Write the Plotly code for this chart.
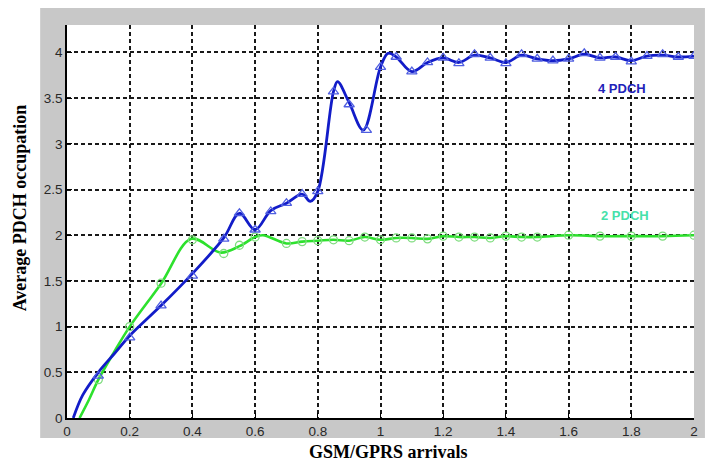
import plotly.graph_objects as go

# 4 PDCH: sampled curve and marker points
pdch4_curve_x = [0.02, 0.05, 0.1, 0.15, 0.2, 0.3, 0.4, 0.5, 0.55, 0.6, 0.65, 0.7, 0.75, 0.776, 0.8,
                 0.85, 0.863, 0.9, 0.945, 1.0, 1.024, 1.05, 1.1, 1.15, 1.2, 1.25, 1.3, 1.35, 1.4,
                 1.45, 1.5, 1.55, 1.6, 1.65, 1.7, 1.75, 1.8, 1.85, 1.9, 1.95, 2.0]
pdch4_curve_y = [0.0, 0.25, 0.5, 0.7, 0.9, 1.23, 1.58, 1.97, 2.24, 2.06, 2.27, 2.35, 2.45, 2.37, 2.48,
                 3.57, 3.68, 3.45, 3.15, 3.84, 3.99, 3.95, 3.79, 3.89, 3.94, 3.89, 3.97, 3.94, 3.89,
                 3.97, 3.93, 3.91, 3.93, 3.98, 3.94, 3.95, 3.91, 3.96, 3.97, 3.95, 3.96]
pdch4_mark_x = [0.1, 0.2, 0.3, 0.4, 0.5, 0.55, 0.6, 0.65, 0.7, 0.75, 0.8, 0.85, 0.9, 0.955,
                1.0, 1.05, 1.1, 1.15, 1.2, 1.25, 1.3, 1.35, 1.4, 1.45, 1.5, 1.55, 1.6, 1.65,
                1.7, 1.75, 1.8, 1.85, 1.9, 1.95, 2.0]
pdch4_mark_y = [0.46, 0.88, 1.23, 1.555, 1.96, 2.24, 2.06, 2.26, 2.35, 2.45, 2.48, 3.57, 3.43, 3.15,
                3.84, 3.95, 3.79, 3.89, 3.94, 3.88, 3.98, 3.94, 3.88, 3.98, 3.93, 3.91, 3.93, 3.99,
                3.94, 3.95, 3.90, 3.96, 3.98, 3.95, 3.96]

# 2 PDCH: sampled curve and marker points
pdch2_curve_x = [0.04, 0.07, 0.1, 0.15, 0.2, 0.3, 0.397, 0.49, 0.55, 0.6, 0.625, 0.7, 0.75, 0.8, 0.85,
                 0.9, 0.95, 1.0, 1.05, 1.1, 1.15, 1.2, 1.25, 1.3, 1.35, 1.4, 1.45, 1.5, 1.6, 1.7,
                 1.8, 1.9, 2.0]
pdch2_curve_y = [0.0, 0.2, 0.42, 0.72, 1.0, 1.47, 1.96, 1.81, 1.88, 1.98, 2.0, 1.91, 1.93, 1.94, 1.95,
                 1.94, 1.98, 1.95, 1.97, 1.97, 1.96, 1.99, 1.98, 1.98, 1.97, 1.99, 1.98, 1.98, 2.0,
                 1.99, 1.99, 1.99, 2.0]
pdch2_mark_x = [0.1, 0.2, 0.3, 0.4, 0.5, 0.55, 0.6, 0.7, 0.75, 0.8, 0.85, 0.9, 0.95, 1.0,
                1.05, 1.1, 1.15, 1.2, 1.25, 1.3, 1.35, 1.4, 1.45, 1.5, 1.6, 1.7, 1.8, 1.9, 2.0]
pdch2_mark_y = [0.42, 1.0, 1.475, 1.95, 1.80, 1.89, 1.98, 1.91, 1.93, 1.94, 1.95, 1.94, 1.98, 1.95,
                1.97, 1.97, 1.96, 1.99, 1.98, 1.98, 1.97, 1.99, 1.98, 1.98, 2.0, 1.99, 1.99, 1.99, 2.0]

x_ticks = [0, 0.2, 0.4, 0.6, 0.8, 1, 1.2, 1.4, 1.6, 1.8, 2]
x_tick_text = ["0", "0.2", "0.4", "0.6", "0.8", "1", "1.2", "1.4", "1.6", "1.8", "2"]
y_ticks = [0, 0.5, 1, 1.5, 2, 2.5, 3, 3.5, 4]
y_tick_text = ["0", "0.5", "1", "1.5", "2", "2.5", "3", "3.5", "4"]

BLUE = "rgb(18,28,200)"
BLUE_MK = "rgb(80,95,225)"
GREEN = "rgb(45,225,45)"
GREEN_MK = "rgb(125,220,125)"

fig = go.Figure()
fig.add_trace(go.Scatter(x=pdch2_curve_x, y=pdch2_curve_y, mode="lines",
                         line=dict(color=GREEN, width=2.6, shape="spline", smoothing=1.0),
                         showlegend=False, hoverinfo="skip"))
fig.add_trace(go.Scatter(x=pdch2_mark_x, y=pdch2_mark_y, mode="markers",
                         marker=dict(symbol="circle-open", size=8, color=GREEN_MK,
                                     line=dict(width=1.3)),
                         name="2 PDCH", showlegend=False))
fig.add_trace(go.Scatter(x=pdch4_curve_x, y=pdch4_curve_y, mode="lines",
                         line=dict(color=BLUE, width=2.8, shape="spline", smoothing=1.0),
                         showlegend=False, hoverinfo="skip"))
fig.add_trace(go.Scatter(x=pdch4_mark_x, y=pdch4_mark_y, mode="markers",
                         marker=dict(symbol="triangle-up-open", size=9, color=BLUE_MK,
                                     line=dict(width=1.3)),
                         name="4 PDCH", showlegend=False))

L, R, T, B = 67, 11, 25, 44
W, H = 709, 462
pw, ph = W - L - R, H - T - B

def px_to_paper_x(px):
    return (px - L) / pw

def px_to_paper_y(py):
    return (H - B - py) / ph

# grey frame around the axes, then the white axes area on top of it
fig.add_shape(type="rect", xref="paper", yref="paper",
              x0=px_to_paper_x(40), x1=px_to_paper_x(709),
              y0=px_to_paper_y(438), y1=px_to_paper_y(8),
              fillcolor="rgb(200,200,200)", line=dict(width=0), layer="below")
fig.add_shape(type="rect", xref="paper", yref="paper", x0=0, x1=1, y0=0, y1=1,
              fillcolor="white", line=dict(width=0), layer="below")

grid = dict(showgrid=True, gridcolor="rgb(25,25,25)", gridwidth=1.5, griddash="4px,3px")
tickfont = dict(family="Liberation Sans, Arial, sans-serif", size=13.5, color="rgb(40,40,40)")

fig.update_xaxes(range=[0, 2], tickvals=x_ticks, ticktext=x_tick_text, ticks="inside",
                 ticklen=5, tickcolor="black", showline=True, linecolor="black", linewidth=1.5,
                 zeroline=False, tickfont=tickfont, **grid)
fig.update_yaxes(range=[0, 4.3], tickvals=y_ticks, ticktext=y_tick_text, ticks="inside",
                 ticklen=5, tickcolor="black", showline=True, linecolor="black", linewidth=1.5,
                 zeroline=False, tickfont=tickfont, **grid)

serif = "Liberation Serif, Times New Roman, serif"
fig.add_annotation(text="<b>GSM/GPRS arrivals</b>", xref="paper", yref="paper",
                   x=px_to_paper_x(391), y=px_to_paper_y(452), showarrow=False,
                   xanchor="center", yanchor="middle",
                   font=dict(family=serif, size=18, color="black"))
fig.add_annotation(text="<b>Average PDCH occupation</b>", xref="paper", yref="paper",
                   x=px_to_paper_x(20), y=px_to_paper_y(208), showarrow=False, textangle=-90,
                   xanchor="center", yanchor="middle",
                   font=dict(family=serif, size=18, color="black"))
fig.add_annotation(text="<b>4 PDCH</b>", x=1.77, y=3.6, showarrow=False,
                   font=dict(family="Liberation Sans, Arial, sans-serif", size=13,
                             color="rgb(30,35,185)"))
fig.add_annotation(text="<b>2 PDCH</b>", x=1.78, y=2.22, showarrow=False,
                   font=dict(family="Liberation Sans, Arial, sans-serif", size=13,
                             color="rgb(70,225,170)"))

fig.update_layout(width=W, height=H, margin=dict(l=L, r=R, t=T, b=B),
                  paper_bgcolor="white", plot_bgcolor="white", showlegend=False)

fig.write_html("out.html")
